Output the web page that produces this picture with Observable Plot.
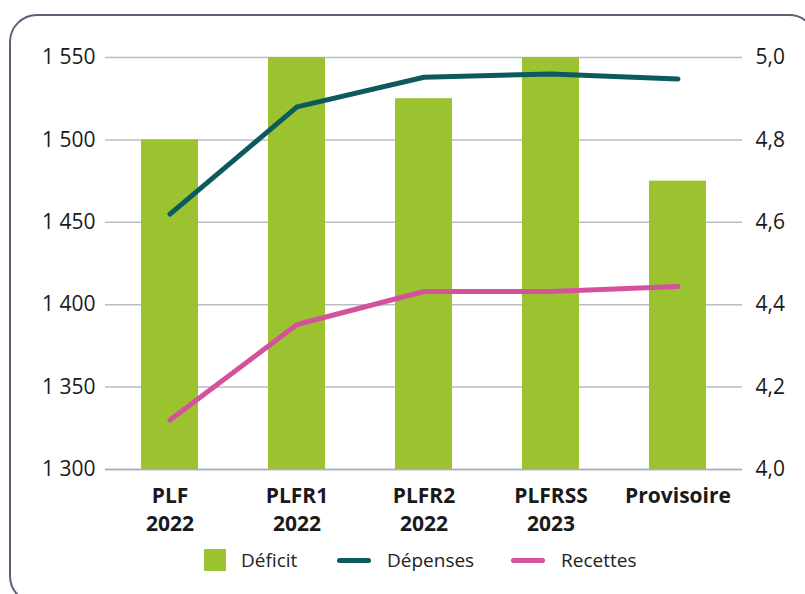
<!DOCTYPE html>
<html>
<head>
<meta charset="utf-8">
<script src="https://cdn.jsdelivr.net/npm/d3@7"></script>
<script src="https://cdn.jsdelivr.net/npm/@observablehq/plot@0.6"></script>
<style>
  html, body { margin: 0; padding: 0; background: #fff; }
  body { width: 805px; height: 594px; overflow: hidden; position: relative; font-family: "Open Sans", sans-serif; }
  #frame { position: absolute; left: 9px; top: 14px; width: 808px; height: 590px; border: 2.5px solid #5a6275; border-radius: 28px; box-sizing: border-box; }
  #chart { position: absolute; left: 0; top: 0; }
  #legend { position: absolute; top: 548px; left: 0; width: 805px; height: 26px; font-size: 19px; color: #222; }
  .item { position: absolute; top: 0; display: flex; align-items: center; height: 24px; }
  .sq { width: 22px; height: 22px; margin-right: 15px; }
  .ln { width: 34px; height: 5px; border-radius: 3px; margin-right: 16px; }
</style>
</head>
<body>
<div id="frame"></div>
<div id="chart"></div>
<div id="legend"></div>
<script>
const categories = ["PLF 2022", "PLFR1 2022", "PLFR2 2022", "PLFRSS 2023", "Provisoire"];
const deficit = [4.8, 5.0, 4.9, 5.0, 4.7];          // right axis
const depenses = [1455, 1520, 1538, 1540, 1537];   // left axis
const recettes = [1330, 1388, 1408, 1408, 1411];   // left axis
const leftTicks = [1300, 1350, 1400, 1450, 1500, 1550];
const rightTicks = [4.0, 4.2, 4.4, 4.6, 4.8, 5.0];
const seriesNames = ["Déficit", "Dépenses", "Recettes"];
const colors = {deficit: "#9bc330", depenses: "#0d5a5e", recettes: "#d4529b"};

const yMin = 1300, yMax = 1550, rMin = 4.0, rMax = 5.0;
const toLeft = v => yMin + (v - rMin) * (yMax - yMin) / (rMax - rMin);
const data = categories.map((c, i) => ({cat: c, deficit: deficit[i], depenses: depenses[i], recettes: recettes[i]}));
const fmtLeft = d => d3.format(",")(d).replace(",", " ");
const fmtRight = d => d.toFixed(1).replace(".", ",");

const chart = Plot.plot({
  width: 805, height: 540,
  marginLeft: 105, marginRight: 63, marginTop: 57, marginBottom: 71,
  style: {fontFamily: "'Open Sans', sans-serif", fontSize: "21px", background: "transparent", color: "#1a1a1a", overflow: "visible"},
  x: {domain: categories, paddingInner: 0.55, paddingOuter: 0.275, label: null},
  y: {domain: [yMin, yMax], label: null},
  marks: [
    Plot.gridY(leftTicks, {stroke: "#b9bdca", strokeOpacity: 1, strokeWidth: 1.5}),
    Plot.barY(data, {x: "cat", y1: yMin, y2: d => toLeft(d.deficit), fill: colors.deficit}),
    Plot.ruleY([yMin], {stroke: "#a9aebd", strokeWidth: 1.5}),
    Plot.line(data, {x: "cat", y: "depenses", stroke: colors.depenses, strokeWidth: 5, strokeLinecap: "round", strokeLinejoin: "round"}),
    Plot.line(data, {x: "cat", y: "recettes", stroke: colors.recettes, strokeWidth: 5, strokeLinecap: "round", strokeLinejoin: "round"}),
    Plot.axisY(leftTicks, {anchor: "left", tickSize: 0, tickPadding: 10, tickFormat: fmtLeft, label: null}),
    Plot.axisY(rightTicks.map(toLeft), {anchor: "right", tickSize: 0, tickPadding: 13, tickFormat: d => fmtRight(rMin + (d - yMin) * (rMax - rMin) / (yMax - yMin)), label: null}),
    Plot.axisX({tickSize: 0, tickPadding: 14, fontWeight: "bold", lineHeight: 1.33, tickFormat: d => d.replace(" ", "\n"), label: null})
  ]
});
document.getElementById("chart").appendChild(chart);

const legend = document.getElementById("legend");
const items = [
  {name: seriesNames[0], cls: "sq", color: colors.deficit, left: 204},
  {name: seriesNames[1], cls: "ln", color: colors.depenses, left: 337},
  {name: seriesNames[2], cls: "ln", color: colors.recettes, left: 511}
];
for (const it of items) {
  const el = document.createElement("div");
  el.className = "item";
  el.style.left = it.left + "px";
  const sw = document.createElement("span");
  sw.className = it.cls;
  sw.style.background = it.color;
  const tx = document.createElement("span");
  tx.textContent = it.name;
  el.appendChild(sw); el.appendChild(tx);
  legend.appendChild(el);
}
</script>
</body>
</html>
